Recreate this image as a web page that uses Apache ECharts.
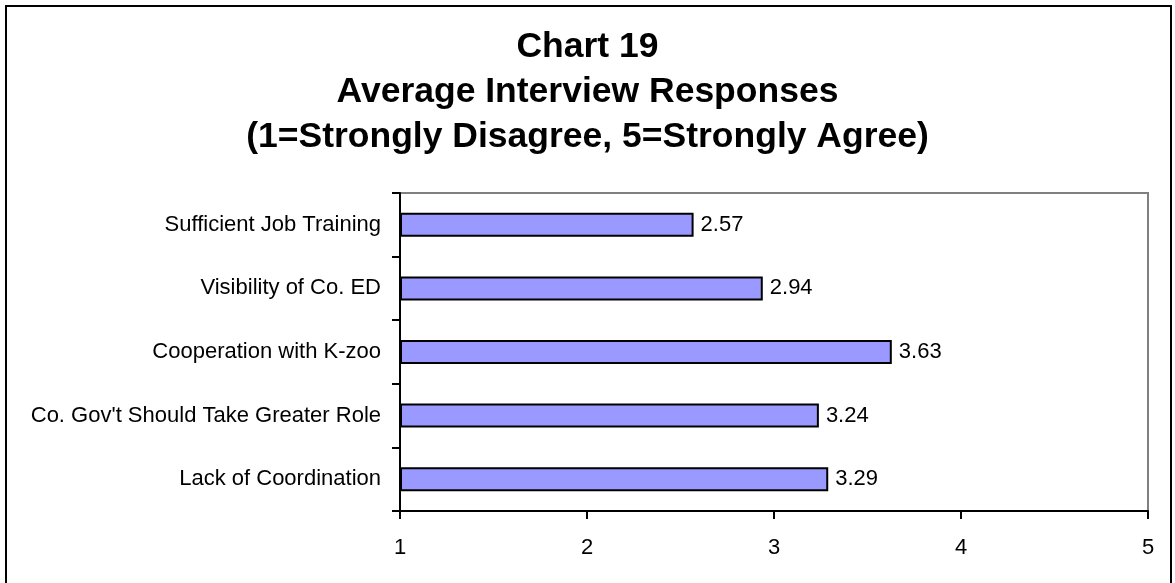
<!DOCTYPE html>
<html>
<head>
<meta charset="utf-8">
<script src="https://cdn.jsdelivr.net/npm/echarts@6/dist/echarts.min.js"></script>
<style>
html,body{margin:0;padding:0;background:#fff;}
#chart{width:1175px;height:583px;}
</style>
</head>
<body>
<div id="chart"></div>
<script>
const titleLines = ['Chart 19', 'Average Interview Responses', '(1=Strongly Disagree, 5=Strongly Agree)'];
const categories = ['Sufficient Job Training', 'Visibility of Co. ED', 'Cooperation with K-zoo', "Co. Gov't Should Take Greater Role", 'Lack of Coordination'];
const values = [2.57, 2.94, 3.63, 3.24, 3.29];
const axisMin = 1, axisMax = 5, axisInterval = 1;

const FONT = "'Liberation Sans', Arial, Helvetica, sans-serif";
const chart = echarts.init(document.getElementById('chart'), null, {renderer: 'canvas'});
chart.setOption({
  backgroundColor: '#ffffff',
  animation: false,
  title: {
    text: titleLines.join('\n'),
    left: 'center',
    top: 20,
    textStyle: {fontFamily: FONT, fontWeight: 'bold', fontSize: 35.5, lineHeight: 45, color: '#000'}
  },
  graphic: [{
    type: 'rect',
    shape: {x: 6, y: 6, width: 1165, height: 620},
    style: {fill: 'none', stroke: '#000', lineWidth: 2},
    silent: true,
    z: 100
  }],
  grid: {
    left: 400, right: 27, top: 193, bottom: 72,
    show: true, borderColor: '#808080', borderWidth: 2, backgroundColor: '#fff',
    containLabel: false
  },
  xAxis: {
    type: 'value',
    min: axisMin, max: axisMax, interval: axisInterval,
    startValue: axisMin,
    axisLine: {show: true, lineStyle: {color: '#000', width: 2}},
    axisTick: {show: true, length: 8, lineStyle: {color: '#000', width: 2}},
    splitLine: {show: false},
    axisLabel: {fontFamily: FONT, fontSize: 22, color: '#000', margin: 26}
  },
  yAxis: {
    type: 'category',
    data: categories,
    inverse: true,
    axisLine: {show: true, lineStyle: {color: '#000', width: 2}},
    axisTick: {show: true, length: 8, lineStyle: {color: '#000', width: 2}},
    axisLabel: {fontFamily: FONT, fontSize: 22, color: '#000', margin: 19}
  },
  series: [{
    type: 'bar',
    data: values,
    barWidth: 24,
    itemStyle: {color: '#9999FF', borderColor: '#000', borderWidth: 2},
    label: {
      show: true, position: 'right', distance: 7,
      fontFamily: FONT, fontSize: 22, color: '#000',
      formatter: p => p.value.toFixed(2)
    }
  }]
});
</script>
</body>
</html>
